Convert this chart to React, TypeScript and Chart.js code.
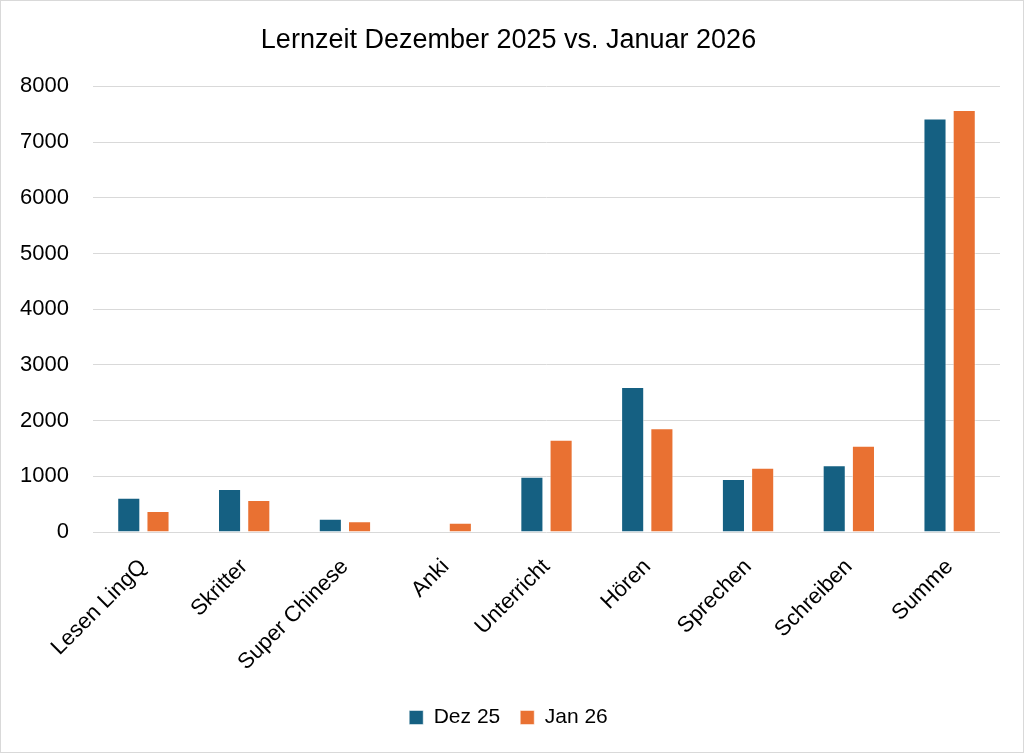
import React, { useEffect, useRef } from "react";
import { Chart, registerables } from "chart.js";

Chart.register(...registerables);

const categories = ["Lesen LingQ", "Skritter", "Super Chinese", "Anki", "Unterricht", "Hören", "Sprechen", "Schreiben", "Summe"];
const dez25 = [615, 772, 239, 0, 993, 2603, 952, 1197, 7424];
const jan26 = [377, 575, 192, 167, 1657, 1862, 1155, 1550, 7576];
const seriesNames = ["Dez 25", "Jan 26"];
const title = "Lernzeit Dezember 2025 vs. Januar 2026";

export default function App() {
  const ref = useRef<HTMLCanvasElement>(null);
  useEffect(() => {
    if (!ref.current) return;
    const font = "'Liberation Sans', Arial, sans-serif";
    const chart = new Chart(ref.current, {
      type: "bar",
      data: {
        labels: categories,
        datasets: [
          { label: seriesNames[0], data: dez25, backgroundColor: "#156082", borderColor: "rgba(255,255,255,0.5)", borderWidth: 1 },
          { label: seriesNames[1], data: jan26, backgroundColor: "#E97132", borderColor: "rgba(255,255,255,0.5)", borderWidth: 1 },
        ],
      },
      options: {
        animation: false,
        responsive: false,
        maintainAspectRatio: false,
        layout: { padding: { left: 16, right: 23, top: 19, bottom: 14 } },
        datasets: { bar: { categoryPercentage: 0.58, barPercentage: 0.79 } },
        plugins: {
          title: {
            display: true,
            text: title,
            color: "#000",
            font: { family: font, size: 27, weight: "normal" },
            padding: { top: 4, bottom: 30 },
          },
          legend: {
            position: "bottom",
            labels: {
              color: "#000",
              font: { family: font, size: 21 },
              boxWidth: 14,
              boxHeight: 14,
              padding: 20,
            },
          },
          tooltip: { enabled: false },
        },
        scales: {
          x: {
            grid: { display: false, drawTicks: false },
            border: { display: false },
            afterFit: (s: any) => { s.height = 155; },
            ticks: {
              color: "#000",
              font: { family: font, size: 22 },
              maxRotation: 45,
              minRotation: 45,
              padding: 22,
            },
          },
          y: {
            min: 0,
            max: 8000,
            grid: { color: "#d9d9d9", lineWidth: 1, drawTicks: false },
            border: { display: false },
            afterFit: (s: any) => { s.width = 76; },
            ticks: {
              stepSize: 1000,
              color: "#000",
              font: { family: font, size: 22 },
              padding: 24,
              callback: (v: any) => String(v),
            },
          },
        },
      },
    });
    return () => chart.destroy();
  }, []);
  return (
    <div
      style={{
        position: "fixed",
        left: 0,
        top: 0,
        width: 1024,
        height: 753,
        boxSizing: "border-box",
        border: "1px solid #d9d9d9",
        background: "#fff",
      }}
    >
      <canvas ref={ref} width={1022} height={751} style={{ display: "block" }} />
    </div>
  );
}
